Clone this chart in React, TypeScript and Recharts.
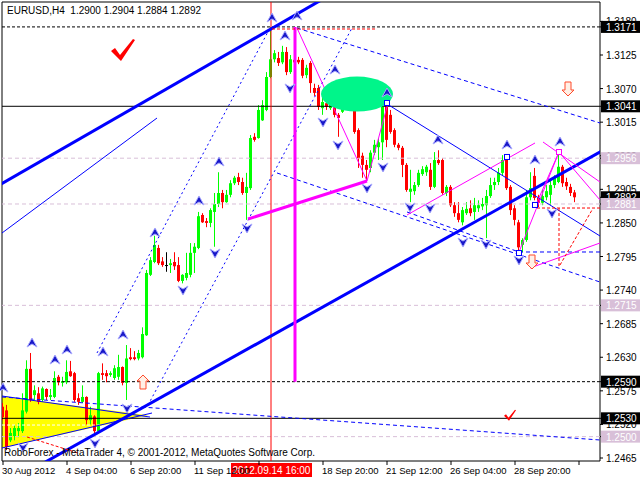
import React from "react";
import {
  Area,
  Bar,
  ComposedChart,
  ReferenceArea,
  ReferenceDot,
  ReferenceLine,
  XAxis,
  YAxis,
} from "recharts";

const FONT = "'Liberation Sans', Arial, sans-serif";

// EURUSD H4 bars, 30 Aug 2012 .. 1 Oct 2012
const opens = [
  1.2549, 1.2543, 1.2494, 1.2501, 1.2509, 1.2509, 1.2541, 1.2611, 1.2568, 1.2571,
  1.2560, 1.2578, 1.2565, 1.2565, 1.2598, 1.2588, 1.2589, 1.2607, 1.2604, 1.2563,
  1.2557, 1.2565, 1.2527, 1.2533, 1.2509, 1.2604, 1.2604, 1.2601, 1.2596, 1.2598,
  1.2614, 1.2588, 1.2630, 1.2630, 1.2628, 1.2630, 1.2666, 1.2765, 1.2786, 1.2809,
  1.2787, 1.2781, 1.2781, 1.2786, 1.2781, 1.2755, 1.2760, 1.2765, 1.2801, 1.2809,
  1.2863, 1.2853, 1.2850, 1.2868, 1.2881, 1.2899, 1.2884, 1.2896, 1.2915, 1.2925,
  1.2917, 1.2899, 1.2907, 1.2991, 1.2989, 1.3018, 1.3035, 1.3089, 1.3118, 1.3120,
  1.3113, 1.3130, 1.3097, 1.3117, 1.3117, 1.3117, 1.3092, 1.3112, 1.3071, 1.3071,
  1.3038, 1.3046, 1.3038, 1.3071, 1.3027, 1.3032, 1.3068, 1.3046, 1.3051, 1.3002,
  1.2960, 1.2945, 1.2940, 1.2965, 1.2974, 1.2982, 1.3041, 1.3027, 1.3002, 1.2978,
  1.2973, 1.2945, 1.2901, 1.2902, 1.2912, 1.2930, 1.2933, 1.2937, 1.2909, 1.2953,
  1.2953, 1.2899, 1.2909, 1.2879, 1.2866, 1.2851, 1.2866, 1.2874, 1.2868, 1.2874,
  1.2877, 1.2879, 1.2894, 1.2912, 1.2917, 1.2932, 1.2956, 1.2909, 1.2874, 1.2851,
  1.2814, 1.2822, 1.2892, 1.2927, 1.2891, 1.2883, 1.2892, 1.2896, 1.2912, 1.2917,
  1.2942, 1.2917, 1.2909, 1.2900,
];
const highs = [
  1.2555, 1.2552, 1.2514, 1.2519, 1.2522, 1.2571, 1.2625, 1.2637, 1.2584, 1.2581,
  1.2582, 1.2579, 1.2578, 1.2607, 1.2601, 1.2598, 1.2625, 1.2624, 1.2606, 1.2571,
  1.2584, 1.2566, 1.2549, 1.2535, 1.2606, 1.2620, 1.2609, 1.2607, 1.2617, 1.2634,
  1.2615, 1.2650, 1.2645, 1.2640, 1.2642, 1.2679, 1.2773, 1.2794, 1.2829, 1.2814,
  1.2794, 1.2802, 1.2791, 1.2802, 1.2794, 1.2766, 1.2801, 1.2817, 1.2817, 1.2868,
  1.2866, 1.2858, 1.2874, 1.2899, 1.2933, 1.2904, 1.2904, 1.2920, 1.2927, 1.2932,
  1.2924, 1.2932, 1.2994, 1.2997, 1.3043, 1.3051, 1.3097, 1.3171, 1.3133, 1.3130,
  1.3140, 1.3138, 1.3125, 1.3125, 1.3122, 1.3120, 1.3109, 1.3115, 1.3078, 1.3076,
  1.3066, 1.3055, 1.3074, 1.3073, 1.3030, 1.3071, 1.3071, 1.3055, 1.3055, 1.3005,
  1.2965, 1.2953, 1.2969, 1.2986, 1.2989, 1.3045, 1.3048, 1.3035, 1.3005, 1.2981,
  1.2976, 1.2948, 1.2937, 1.2917, 1.2937, 1.2943, 1.2945, 1.2948, 1.2966, 1.2969,
  1.2956, 1.2912, 1.2912, 1.2884, 1.2884, 1.2876, 1.2884, 1.2887, 1.2891, 1.2887,
  1.2891, 1.2904, 1.2924, 1.2924, 1.2940, 1.2961, 1.2961, 1.2912, 1.2879, 1.2855,
  1.2825, 1.2904, 1.2933, 1.2940, 1.2896, 1.2904, 1.2912, 1.2920, 1.2928, 1.2966,
  1.2945, 1.2924, 1.2914, 1.2904,
];
const lows = [
  1.2527, 1.2478, 1.2491, 1.2494, 1.2499, 1.2506, 1.2538, 1.2557, 1.2560, 1.2553,
  1.2557, 1.2560, 1.2560, 1.2563, 1.2584, 1.2582, 1.2586, 1.2598, 1.2557, 1.2552,
  1.2555, 1.2520, 1.2520, 1.2506, 1.2506, 1.2593, 1.2589, 1.2598, 1.2593, 1.2593,
  1.2584, 1.2560, 1.2625, 1.2625, 1.2625, 1.2628, 1.2665, 1.2763, 1.2784, 1.2781,
  1.2778, 1.2770, 1.2768, 1.2773, 1.2753, 1.2751, 1.2756, 1.2761, 1.2768, 1.2807,
  1.2850, 1.2843, 1.2843, 1.2811, 1.2876, 1.2874, 1.2883, 1.2892, 1.2912, 1.2912,
  1.2896, 1.2855, 1.2904, 1.2983, 1.2988, 1.3017, 1.3033, 1.3087, 1.3113, 1.3107,
  1.3110, 1.3092, 1.3094, 1.3107, 1.3110, 1.3087, 1.3087, 1.3063, 1.3058, 1.3035,
  1.3027, 1.3035, 1.3035, 1.3023, 1.2991, 1.3030, 1.3043, 1.3041, 1.2996, 1.2940,
  1.2924, 1.2917, 1.2933, 1.2961, 1.2953, 1.2953, 1.2974, 1.2996, 1.2974, 1.2969,
  1.2925, 1.2901, 1.2884, 1.2896, 1.2909, 1.2927, 1.2927, 1.2904, 1.2907, 1.2945,
  1.2896, 1.2894, 1.2876, 1.2860, 1.2851, 1.2846, 1.2863, 1.2861, 1.2855, 1.2868,
  1.2871, 1.2825, 1.2891, 1.2904, 1.2912, 1.2927, 1.2904, 1.2863, 1.2846, 1.2801,
  1.2802, 1.2819, 1.2887, 1.2887, 1.2876, 1.2879, 1.2887, 1.2879, 1.2907, 1.2915,
  1.2909, 1.2904, 1.2894, 1.2884,
];
const closes = [
  1.2532, 1.2483, 1.2506, 1.2514, 1.2514, 1.2543, 1.2611, 1.2560, 1.2576, 1.2557,
  1.2579, 1.2565, 1.2568, 1.2596, 1.2589, 1.2591, 1.2606, 1.2599, 1.2560, 1.2557,
  1.2565, 1.2527, 1.2535, 1.2509, 1.2604, 1.2601, 1.2599, 1.2604, 1.2612, 1.2614,
  1.2588, 1.2628, 1.2627, 1.2627, 1.2637, 1.2668, 1.2768, 1.2789, 1.2814, 1.2784,
  1.2781, 1.2781, 1.2784, 1.2779, 1.2755, 1.2765, 1.2768, 1.2801, 1.2811, 1.2861,
  1.2851, 1.2850, 1.2871, 1.2881, 1.2899, 1.2884, 1.2896, 1.2915, 1.2924, 1.2917,
  1.2899, 1.2909, 1.2989, 1.2986, 1.3035, 1.3043, 1.3089, 1.3118, 1.3128, 1.3112,
  1.3130, 1.3097, 1.3118, 1.3113, 1.3113, 1.3091, 1.3104, 1.3079, 1.3063, 1.3040,
  1.3048, 1.3040, 1.3071, 1.3027, 1.3022, 1.3068, 1.3046, 1.3051, 1.2999, 1.2956,
  1.2945, 1.2937, 1.2965, 1.2978, 1.2982, 1.3040, 1.2986, 1.2999, 1.2978, 1.2973,
  1.2945, 1.2904, 1.2906, 1.2912, 1.2932, 1.2938, 1.2942, 1.2909, 1.2953, 1.2948,
  1.2899, 1.2909, 1.2879, 1.2866, 1.2855, 1.2871, 1.2873, 1.2866, 1.2879, 1.2879,
  1.2881, 1.2894, 1.2912, 1.2917, 1.2932, 1.2953, 1.2907, 1.2871, 1.2855, 1.2810,
  1.2822, 1.2892, 1.2907, 1.2891, 1.2883, 1.2894, 1.2902, 1.2912, 1.2924, 1.2942,
  1.2915, 1.2910, 1.2899, 1.2892,
];

const priceTicks = [
  1.2465, 1.252, 1.2575, 1.263, 1.2685, 1.274, 1.2795, 1.285, 1.2905, 1.296,
  1.3015, 1.307, 1.3125, 1.318,
];
const timeTicks = [0, 16, 32, 48, 64, 80, 96, 112, 128, 144];
const timeLabels = [
  "30 Aug 2012", "4 Sep 04:00", "6 Sep 20:00", "11 Sep 12:00", "",
  "18 Sep 20:00", "21 Sep 12:00", "26 Sep 04:00", "28 Sep 20:00", "",
];

// horizontal levels
const blackDashLevels = [1.3171, 1.259];
const blackSolidLevels = [1.3041, 1.253];
const thistleLevels = [1.2956, 1.2881, 1.2715, 1.25];
const bidPrice = 1.2892;
const markedBar = 67; // 2012.09.14 16:00

// price labels on the axis: black ones first, lilac ones over them
const blackBoxes = [bidPrice, ...blackDashLevels, ...blackSolidLevels];
const axisTicks = [...priceTicks, ...blackBoxes, ...thistleLevels];

// drawing objects: [bar1, price1, bar2, price2]
const thickBlue = [
  [-0.75, 1.29126, 81.75, 1.32233],
  [9.25, 1.24535, 151.75, 1.29752],
];
const thinBlue = [
  [-0.25, 1.28335, 38.5, 1.30218],
  [96, 1.30448, 149.25, 1.28286],
  [-0.25, 1.25665, 36.75, 1.25321],
  [-0.25, 1.24814, 37.25, 1.25387],
];
const dashBlue = [
  [101, 1.28679, 129, 1.28024],
  [129, 1.28024, 149.25, 1.28024],
  [-0.25, 1.25649, 149.25, 1.24945],
  [73.5, 1.31692, 149.25, 1.30136],
  [68.5, 1.29318, 149.25, 1.27532],
];
const dotBlue = [
  [23.5, 1.2637, 66.75, 1.31692],
  [36.25, 1.25518, 87.25, 1.31692],
];
const magentaThin = [
  [73.5, 1.31692, 91, 1.29187],
  [91, 1.29187, 96.25, 1.30464],
  [101, 1.2863, 133, 1.29809],
  [135, 1.29825, 149.25, 1.2917],
  [139, 1.29661, 149.25, 1.28875],
  [129, 1.28024, 139, 1.29661],
  [133, 1.28761, 139, 1.29661],
  [131.75, 1.27762, 149.25, 1.28171],
];
const magentaThick = [
  [61.25, 1.28564, 91, 1.29187],
  [73, 1.3171, 73, 1.259],
];
const redDash = [
  [67.25, 1.31676, 93.5, 1.31676],
  [6, 1.24994, 18.75, 1.24732],
  [139, 1.28744, 139, 1.27778],
  [133.5, 1.28744, 149.25, 1.28744],
  [139.25, 1.27811, 147.25, 1.28711],
];
const whiteDash = [
  [80.5, 1.30693, 97.25, 1.30693],
  [-0.25, 1.2519, 25, 1.2519],
];

const triangle = [
  { i: -0.25, band: [1.24814, 1.25665] },
  { i: 36.25, band: [1.2535, 1.2535] },
];

const fractalUpX = [0, 7.25, 13, 16, 25, 30, 38, 49, 54, 67.25, 70.5, 73.5, 83, 96, 108.75, 126, 133, 139.25];
const fractalUpY = [
  1.25796, 1.26533, 1.26255, 1.26419, 1.26386, 1.26664, 1.28335, 1.28859, 1.29498,
  1.31856, 1.31561, 1.31889, 1.31004, 1.30628, 1.29858, 1.29776, 1.2953, 1.29825,
];
const fractalDownX = [5, 23, 31, 45, 53, 61, 71.75, 80, 83.75, 91, 95, 101.75, 106.75, 115, 120.75, 129, 137.25];
const fractalDownY = [
  1.2483, 1.24896, 1.25469, 1.27401, 1.28007, 1.28417, 1.3071, 1.30153, 1.29776,
  1.29072, 1.29416, 1.28761, 1.28744, 1.28187, 1.28155, 1.27893, 1.28662,
];
const squareX = [96, 126, 129, 133];
const squareY = [1.30464, 1.2958, 1.28007, 1.28794];

const candles = opens.map((o, i) => ({
  i,
  o,
  h: highs[i],
  l: lows[i],
  c: closes[i],
  range: [lows[i], highs[i]],
}));

function Candle(props: any) {
  const { x, width, payload } = props;
  let { y, height } = props;
  if (!payload || y == null) return null;
  if (height < 0) {
    y += height;
    height = -height;
  }
  const { o, h, l, c } = payload;
  const k = height / (h - l);
  const yo = y + (h - o) * k;
  const yc = y + (h - c) * k;
  const col = c > o ? "#00FF00" : c < o ? "#FF0000" : "#000000";
  const cx = Math.floor(x + width / 2);
  const top = Math.min(yo, yc);
  const bh = Math.max(1, Math.abs(yc - yo));
  return (
    <g>
      <line x1={cx + 0.5} x2={cx + 0.5} y1={y} y2={y + height} stroke={col} />
      <rect x={cx - 1} y={top} width={3} height={bh} fill={col} />
    </g>
  );
}

const upFractal = (p: any) => (
  <path
    d={`M${p.cx},${p.cy - 5} L${p.cx + 5},${p.cy + 4} L${p.cx},${p.cy + 1} L${p.cx - 5},${p.cy + 4} Z`}
    fill="#1818C8"
    stroke="#A8A8FF"
  />
);
const downFractal = (p: any) => (
  <path
    d={`M${p.cx},${p.cy + 5} L${p.cx + 5},${p.cy - 4} L${p.cx},${p.cy - 1} L${p.cx - 5},${p.cy - 4} Z`}
    fill="#1818C8"
    stroke="#A8A8FF"
  />
);
const hollowArrow = (up: boolean) => (p: any) => {
  const s = up ? 1 : -1;
  const pts = [
    [0, -7], [6, -1], [3, -1], [3, 7], [-3, 7], [-3, -1], [-6, -1],
  ].map(([a, b]) => `${p.cx + a},${p.cy + s * b}`);
  return <polygon points={pts.join(" ")} fill="#FFF0E6" stroke="#FF4A2A" />;
};
const check = (scale: number) => (p: any) => {
  const pts = [[-12, 1], [-8, -2], [-3, 5], [10, -11], [12, -10], [-2, 11]]
    .map(([a, b]) => `${p.cx + a * scale},${p.cy + b * scale}`);
  return <polygon points={pts.join(" ")} fill="#FF0000" />;
};
const square = (color: string) => (p: any) => (
  <rect x={p.cx - 2.5} y={p.cy - 2.5} width={5} height={5} fill="#fff" stroke={color} />
);

function PriceTick(props: any) {
  const { x, y, payload } = props;
  const v = payload.value;
  const bg = blackBoxes.includes(v) ? "#000" : thistleLevels.includes(v) ? "#D8BFD8" : null;
  if (bg) {
    return (
      <g>
        <rect x={x - 5} y={y - 6} width={39} height={12} fill={bg} />
        <text x={x} y={y + 4} fill="#fff" fontSize={10} fontFamily={FONT}>
          {v.toFixed(4)}
        </text>
      </g>
    );
  }
  return (
    <text x={x} y={y + 4} fill="#000" fontSize={10} fontFamily={FONT}>
      {v.toFixed(4)}
    </text>
  );
}

const timeBox = (props: any) => {
  const vb = props.viewBox;
  if (!vb) return null;
  const bottom = vb.y + vb.height;
  return (
    <g>
      <rect x={vb.x - 40} y={bottom + 2} width={81} height={14} fill="#FF0000" />
      <text x={vb.x + 0.5} y={bottom + 13} fill="#fff" fontSize={10} fontFamily={FONT} textAnchor="middle">
        2012.09.14 16:00
      </text>
    </g>
  );
};

function TimeTick(props: any) {
  const { x, y, payload } = props;
  const k = timeTicks.indexOf(payload.value);
  return (
    <text x={x - 1} y={y + 9} fontSize={9.5} fontFamily={FONT} fill="#000">
      {timeLabels[k]}
    </text>
  );
}

function seg(s: number[], stroke: string, width: number, dash: string | undefined, key: string) {
  return (
    <ReferenceLine
      key={key}
      segment={[{ x: s[0], y: s[1] }, { x: s[2], y: s[3] }]}
      stroke={stroke}
      strokeWidth={width}
      strokeDasharray={dash}
      ifOverflow="hidden"
    />
  );
}

export default function App() {
  return (
    <div style={{ position: "absolute", left: 0, top: 0, width: 640, height: 480, background: "#fff" }}>
      <ComposedChart
        width={640}
        height={480}
        data={candles}
        margin={{ top: 2, right: 0, bottom: 0, left: 2 }}
      >
        <XAxis
          dataKey="i"
          type="number"
          domain={[-0.25, 149.25]}
          allowDataOverflow
          ticks={timeTicks}
          interval={0}
          height={19}
          axisLine={false}
          tickSize={4}
          tickMargin={0}
          tickLine={{ stroke: "#000" }}
          tick={<TimeTick />}
        />
        <YAxis
          orientation="right"
          type="number"
          width={40}
          domain={[1.24601, 1.32118]}
          allowDataOverflow
          ticks={axisTicks}
          interval={0}
          axisLine={false}
          tickSize={3}
          tickMargin={3}
          tickLine={{ stroke: "#000" }}
          tick={<PriceTick />}
        />

        <ReferenceDot
          x={88.5}
          y={1.3061}
          shape={(p: any) => <ellipse cx={p.cx} cy={p.cy} rx={36} ry={17.5} fill="#00F58A" />}
        />
        <Area
          data={triangle}
          dataKey="band"
          type="linear"
          stroke="none"
          fill="#FFFF00"
          fillOpacity={1}
          isAnimationActive={false}
        />
        {whiteDash.map((s, k) => seg(s, "#FFFFFF", 1, "3 2", `w${k}`))}
        {thistleLevels.map((v) => (
          <ReferenceLine key={`t${v}`} y={v} stroke="#D8BFD8" strokeDasharray="4 3" />
        ))}
        {blackDashLevels.map((v) => (
          <ReferenceLine key={`bd${v}`} y={v} stroke="#000" strokeDasharray="3 2" />
        ))}
        {blackSolidLevels.map((v) => (
          <ReferenceLine key={`bs${v}`} y={v} stroke="#000" />
        ))}
        <ReferenceLine x={markedBar} stroke="#FF0000" label={timeBox} />

        <Bar dataKey="range" barSize={3} shape={Candle} isAnimationActive={false} />

        {dotBlue.map((s, k) => seg(s, "#0000FF", 1, "2 3", `db${k}`))}
        {dashBlue.map((s, k) => seg(s, "#0000FF", 1, "4 3", `ds${k}`))}
        {thinBlue.map((s, k) => seg(s, "#0000FF", 1, undefined, `tb${k}`))}
        {thickBlue.map((s, k) => seg(s, "#0000FF", 3, undefined, `kb${k}`))}
        {magentaThin.map((s, k) => seg(s, "#FF00FF", 1, undefined, `mt${k}`))}
        {magentaThick.map((s, k) => seg(s, "#FF00FF", 3, undefined, `mk${k}`))}
        {redDash.map((s, k) => seg(s, "#FF0000", 1, "3 2", `rd${k}`))}

        {fractalUpX.map((x, k) => (
          <ReferenceDot key={`fu${k}`} x={x} y={fractalUpY[k]} shape={upFractal} />
        ))}
        {fractalDownX.map((x, k) => (
          <ReferenceDot key={`fd${k}`} x={x} y={fractalDownY[k]} shape={downFractal} />
        ))}
        {squareX.map((x, k) => (
          <ReferenceDot key={`sq${k}`} x={x} y={squareY[k]} shape={square("#0000FF")} />
        ))}
        <ReferenceDot x={139} y={1.29661} shape={square("#FF00FF")} />
        <ReferenceDot x={30} y={1.31332} shape={check(1)} />
        <ReferenceDot x={126.75} y={1.2535} shape={check(0.5)} />
        <ReferenceDot x={35} y={1.25895} shape={hollowArrow(true)} />
        <ReferenceDot x={141.25} y={1.30693} shape={hollowArrow(false)} />
        <ReferenceDot x={132.25} y={1.2786} shape={hollowArrow(false)} />

        <ReferenceArea
          x1={-0.25}
          x2={149.25}
          y1={1.24601}
          y2={1.32118}
          fill="none"
          stroke="#000"
          ifOverflow="visible"
        />
      </ComposedChart>

      <div
        style={{
          position: "absolute", left: 7, top: 5, fontFamily: FONT, fontSize: 10,
          whiteSpace: "pre", color: "#000", pointerEvents: "none",
        }}
      >
        {"EURUSD,H4  1.2900 1.2904 1.2884 1.2892"}
      </div>
      <div
        style={{
          position: "absolute", left: 4, top: 447, fontFamily: FONT, fontSize: 10,
          whiteSpace: "pre", color: "#000", pointerEvents: "none",
        }}
      >
        {"RoboForex - MetaTrader 4, © 2001-2012, MetaQuotes Software Corp."}
      </div>
    </div>
  );
}
